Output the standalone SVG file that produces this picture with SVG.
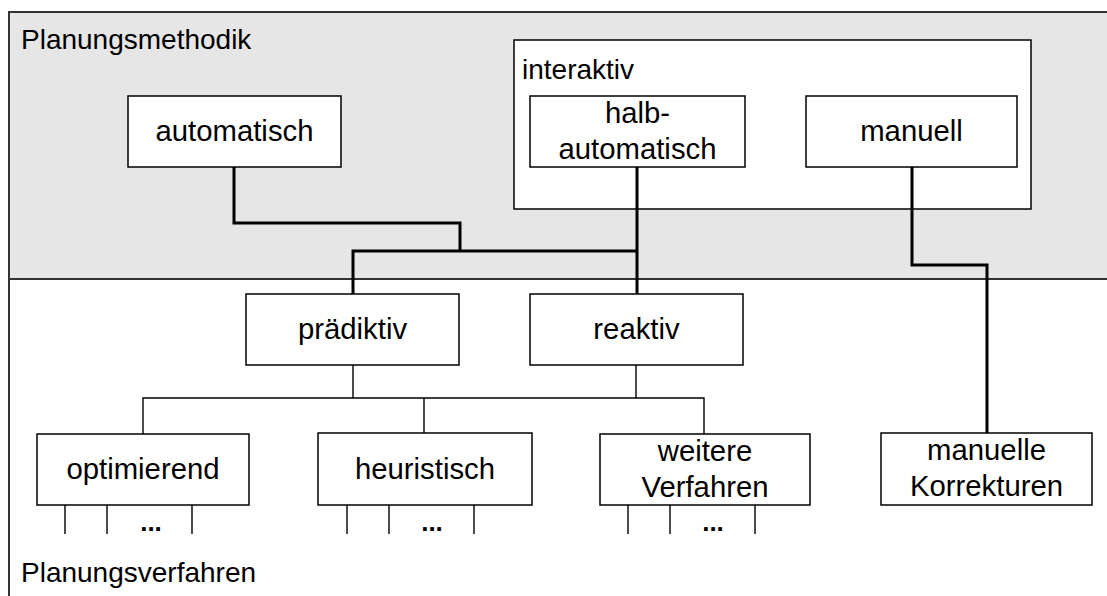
<svg xmlns="http://www.w3.org/2000/svg" width="1107" height="596" viewBox="0 0 1107 596">
  <style>
    text { font-family: "Liberation Sans", Arial, sans-serif; font-size: 29.3px; fill: #000; }
    .h { font-size: 28px; }
    .c { text-anchor: middle; }
    .box { fill: #fff; stroke: #000; stroke-width: 1.5; }
    .frame { stroke: #333; stroke-width: 2; fill: none; }
    .thick { stroke: #000; stroke-width: 3; fill: none; }
    .thin { stroke: #000; stroke-width: 1.4; fill: none; }
    .dots { font-weight: bold; font-size: 26px; }
  </style>

  <!-- upper band: planning method -->
  <rect x="9" y="12" width="1110" height="267" fill="#e6e6e6"/>
  <path class="frame" d="M1110,12 H9 V600"/>
  <path class="frame" d="M9,279 H1110"/>
  <text class="h" x="21" y="49">Planungsmethodik</text>
  <text class="h" x="21" y="582">Planungsverfahren</text>

  <g id="interaktiv">
    <rect class="box" x="514" y="40" width="517" height="169"/>
    <text class="h" x="522" y="79">interaktiv</text>
  </g>

  <g id="automatisch">
    <rect class="box" x="128" y="96" width="213" height="71"/>
    <text class="c" x="234.5" y="141">automatisch</text>
  </g>
  <g id="halbautomatisch">
    <rect class="box" x="530" y="96" width="215" height="71"/>
    <text class="c" x="637.5" y="123">halb-</text>
    <text class="c" x="637.5" y="159">automatisch</text>
  </g>
  <g id="manuell">
    <rect class="box" x="806" y="96" width="211" height="71"/>
    <text class="c" x="911.5" y="141">manuell</text>
  </g>

  <g id="praediktiv">
    <rect class="box" x="246" y="294" width="213" height="71"/>
    <text class="c" x="352.5" y="339">prädiktiv</text>
  </g>
  <g id="reaktiv">
    <rect class="box" x="530" y="294" width="213" height="71"/>
    <text class="c" x="636.5" y="339">reaktiv</text>
  </g>

  <g id="optimierend">
    <rect class="box" x="37" y="434" width="212" height="71"/>
    <text class="c" x="143" y="479">optimierend</text>
  </g>
  <g id="heuristisch">
    <rect class="box" x="318" y="433" width="214" height="72"/>
    <text class="c" x="425" y="479">heuristisch</text>
  </g>
  <g id="weitere">
    <rect class="box" x="600" y="434" width="210" height="71"/>
    <text class="c" x="705" y="461">weitere</text>
    <text class="c" x="705" y="497">Verfahren</text>
  </g>
  <g id="korrekturen">
    <rect class="box" x="881" y="433" width="211" height="72"/>
    <text class="c" x="986.5" y="460">manuelle</text>
    <text class="c" x="986.5" y="496">Korrekturen</text>
  </g>

  <g id="connectors">
    <path class="thick" d="M234,167 V223 H460 V251"/>
    <path class="thick" d="M353,294 V251 H637"/>
    <path class="thick" d="M637,167 V294"/>
    <path class="thick" d="M912,167 V265 H987 V433"/>
    <path class="thin" d="M353,365 V398"/>
    <path class="thin" d="M636,365 V398"/>
    <path class="thin" d="M143,434 V398 H704 V434"/>
    <path class="thin" d="M424,398 V433"/>
    <path class="thin" d="M65,505 V534 M107,505 V534 M192,505 V534"/>
    <path class="thin" d="M347,505 V534 M389,505 V534 M474,505 V534"/>
    <path class="thin" d="M628,505 V534 M670,505 V534 M755,505 V534"/>
    <text class="c dots" x="151" y="531">...</text>
    <text class="c dots" x="432" y="531">...</text>
    <text class="c dots" x="713" y="531">...</text>
  </g>
</svg>
